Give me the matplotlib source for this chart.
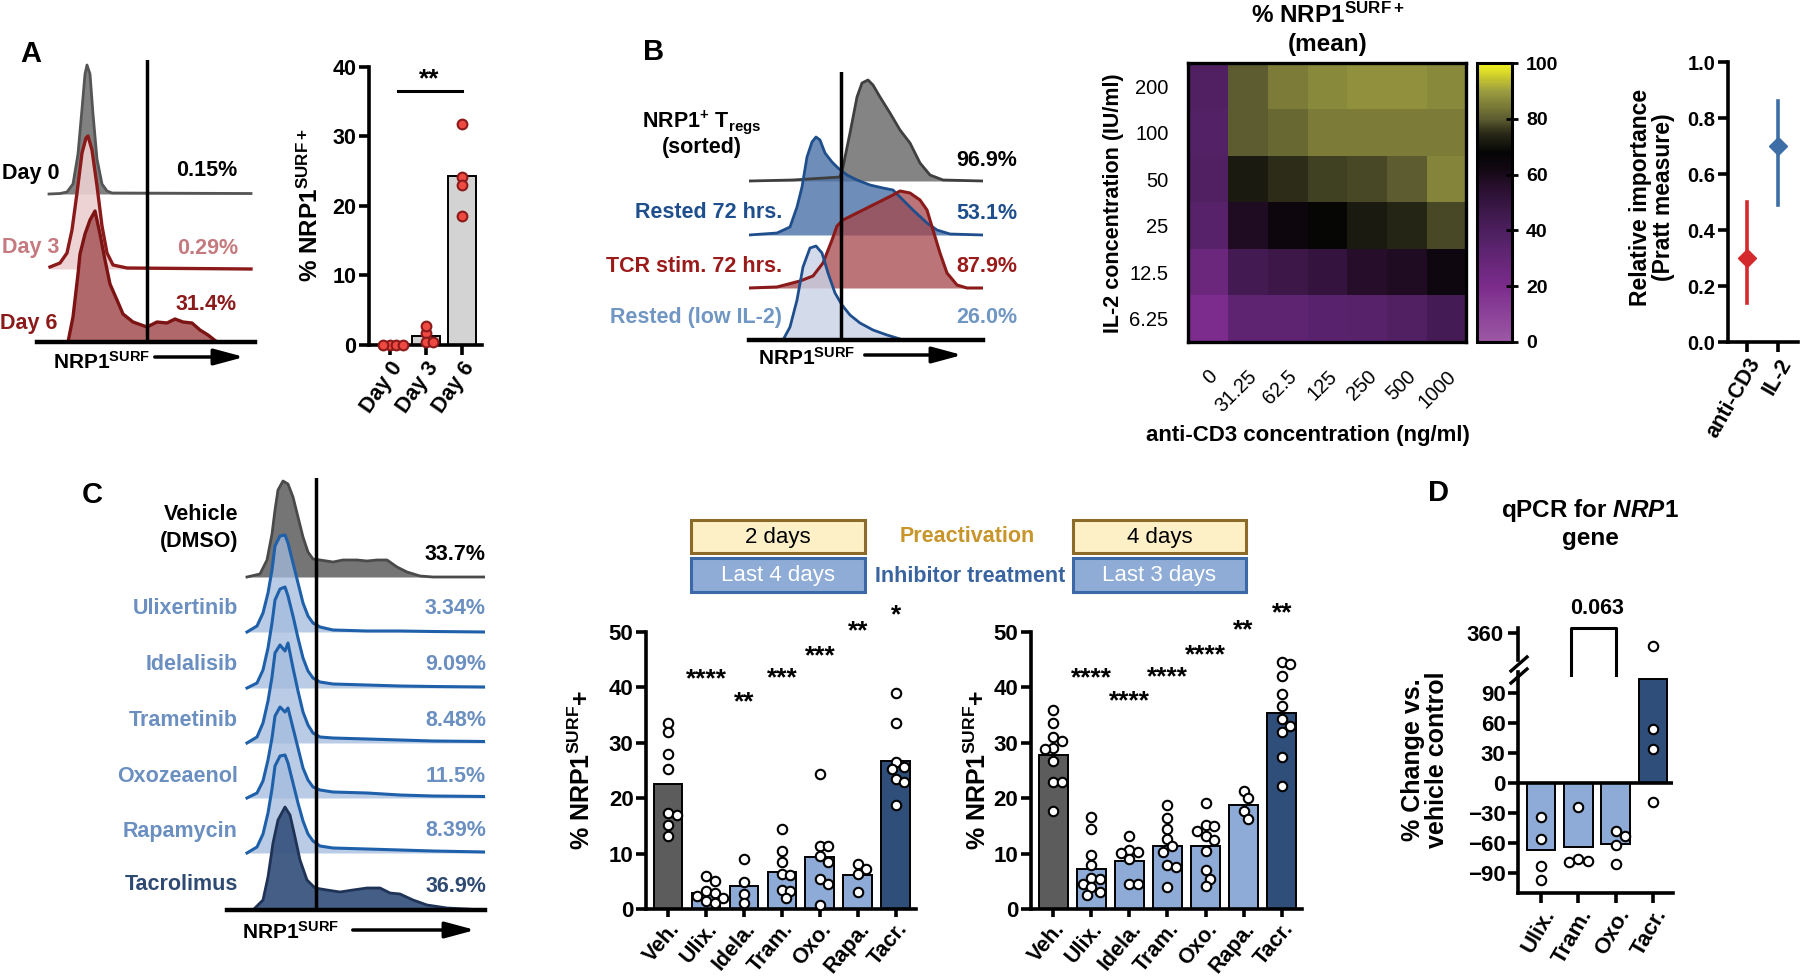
import numpy as np
import matplotlib
matplotlib.use('Agg')
import matplotlib.pyplot as plt
from matplotlib.colors import LinearSegmentedColormap
from matplotlib.patches import Rectangle
from matplotlib.lines import Line2D

plt.rcParams['font.family'] = ['Liberation Sans', 'DejaVu Sans']
plt.rcParams['font.weight'] = 'bold'
plt.rcParams['mathtext.fontset'] = 'custom'
plt.rcParams['mathtext.rm'] = 'Liberation Sans:bold'
plt.rcParams['mathtext.bf'] = 'Liberation Sans:bold'
plt.rcParams['mathtext.it'] = 'Liberation Sans:italic:bold'
plt.rcParams['mathtext.default'] = 'rm'

# ---------------- data ----------------
# A: histograms (x = intensity, h = count), day 0 / 3 / 6
a_d0_x = [49, 60, 67, 73, 78, 82, 85, 87, 90, 93, 97, 102, 107, 112, 251]
a_d0_h = [0, 0.5, 2, 10, 40, 85, 120, 129, 120, 80, 35, 10, 3, 1, 0.5]
a_d3_x = [50, 60, 67, 72, 77, 82, 86, 88, 92, 97, 102, 107, 113, 127, 251]
a_d3_h = [2, 6, 16, 39, 76, 116, 131, 133, 119, 83, 43, 16, 4, 1, 0]
a_d6_x = [68, 73, 78, 80, 85, 90, 95, 100, 105, 110, 117, 123, 133, 147, 157, 167, 175, 183, 192, 200, 208, 217]
a_d6_h = [0, 25, 68, 88, 108, 122, 131, 108, 82, 58, 42, 28, 20, 15, 20, 19, 23, 20, 19, 12, 7, 0]
a_pct = ['0.15%', '0.29%', '31.4%']

# A: bar chart
a_days = ['Day 0', 'Day 3', 'Day 6']
a_means = [0.0, 1.3, 24.3]
a_points = [[0, 0, 0, 0], [1.7, 2.7, 0.5, 0.5], [31.8, 24.2, 23.0, 18.6]]

# B: histograms
b_gray_x = [749, 793, 840, 843, 850, 857, 862, 868, 873, 880, 890, 900, 910, 920, 930, 943, 983]
b_gray_h = [0, 1, 4, 14, 48, 84, 98, 101, 96, 84, 68, 51, 38, 18, 6, 1, 0]
b_rest_x = [749, 777, 790, 797, 802, 807, 812, 816, 820, 825, 832, 838, 847, 857, 870, 883, 893, 903, 913, 927, 937, 950, 983]
b_rest_h = [0, 2, 8, 28, 48, 78, 93, 98, 95, 82, 73, 67, 60, 55, 50, 47, 45, 35, 25, 12, 5, 1, 0]
b_tcr_x = [749, 777, 800, 813, 823, 832, 837, 843, 853, 863, 873, 883, 893, 900, 910, 920, 927, 933, 940, 947, 957, 967, 983]
b_tcr_h = [0, 1, 7, 12, 25, 48, 62, 68, 73, 78, 83, 88, 93, 97, 95, 88, 78, 58, 35, 15, 3, 0, 0]
b_low_x = [749, 783, 790, 797, 803, 810, 816, 822, 828, 835, 842, 850, 860, 873, 887, 900, 903]
b_low_h = [0, 0, 13, 40, 73, 92, 94, 87, 67, 47, 35, 25, 17, 10, 5, 1, 0]
b_labels = ['Rested 72 hrs.', 'TCR stim. 72 hrs.', 'Rested (low IL-2)']
b_pct = ['96.9%', '53.1%', '87.9%', '26.0%']

# B: heatmap
il2_conc = ['200', '100', '50', '25', '12.5', '6.25']
cd3_conc = ['0', '31.25', '62.5', '125', '250', '500', '1000']
nrp1_mean = [
    [38, 80, 85, 87, 88, 88, 87],
    [37, 80, 82, 85, 85, 85, 85],
    [38, 72, 75, 77, 78, 80, 86],
    [35, 58, 64, 68, 72, 74, 78],
    [27, 44, 47, 50, 56, 58, 63],
    [20, 32, 32, 34, 35, 38, 43],
]

# B: relative importance
imp_names = ['anti-CD3', 'IL-2']
imp_val = [0.30, 0.70]
imp_lo = [0.14, 0.49]
imp_hi = [0.50, 0.86]

# C: histograms
c_names = ['Ulixertinib', 'Idelalisib', 'Trametinib', 'Oxozeaenol', 'Rapamycin']
c_pct = ['33.7%', '3.34%', '9.09%', '8.48%', '11.5%', '8.39%', '36.9%']
c_veh_x = [247, 260, 267, 272, 275, 278, 283, 288, 293, 298, 303, 308, 313, 320, 333, 343, 357, 367, 377, 387, 397, 407, 420, 433, 485]
c_veh_h = [0, 3, 17, 43, 67, 87, 96, 93, 80, 60, 40, 25, 18, 17, 15, 17, 17, 16, 17, 17, 10, 5, 1, 0, 0]
c_inh_x = [247, 257, 263, 268, 272, 275, 280, 285, 288, 293, 298, 303, 308, 313, 320, 333, 367, 400, 433, 485]
c_inh_h = [
    [0, 6, 19, 39, 62, 86, 96, 97, 89, 69, 49, 29, 16, 9, 5, 2, 1, 1, 0.5, 0],
    [0, 5, 18, 40, 65, 88, 99, 101, 92, 72, 50, 30, 17, 10, 6, 4, 3, 2, 1.5, 1],
    [0, 6, 20, 42, 66, 90, 98, 92, 100, 75, 52, 31, 18, 10, 6, 5, 4, 3, 2, 1.5],
    [0, 5, 17, 38, 60, 82, 91, 86, 90, 70, 50, 30, 18, 11, 8, 6, 5, 3, 2, 1.5],
    [0, 6, 19, 40, 64, 87, 97, 98, 90, 70, 50, 32, 19, 12, 7, 5, 4, 3, 2, 1],
]
c_tac_x = [253, 263, 268, 273, 278, 285, 290, 295, 300, 307, 315, 327, 340, 353, 367, 380, 390, 400, 413, 427, 447, 485]
c_tac_h = [0, 10, 33, 67, 90, 103, 95, 73, 50, 30, 22, 20, 18, 20, 22, 22, 17, 16, 10, 5, 2, 0]

# C: bar charts
drugs = ['Veh.', 'Ulix.', 'Idela.', 'Tram.', 'Oxo.', 'Rapa.', 'Tacr.']
c1_means = [22.6, 2.8, 4.2, 6.6, 9.3, 6.2, 26.8]
c1_points = [
    [33.6, 31.9, 28.0, 25.2, 17.4, 16.9, 15.2, 13.2],
    [6.0, 5.0, 3.3, 2.8, 2.4, 2.0, 1.5, 1.0],
    [9.0, 4.8, 2.7, 1.0],
    [14.5, 10.5, 8.4, 6.3, 6.1, 3.4, 3.3, 1.9],
    [24.4, 11.3, 11.4, 9.6, 8.4, 5.4, 4.5, 0.7],
    [8.2, 7.2, 6.4, 3.1],
    [38.9, 33.6, 26.5, 25.6, 25.2, 23.5, 23.0, 18.7],
]
c1_stars = ['', '****', '**', '***', '***', '**', '*']
c1_star_y = [0, 41.4, 37.3, 41.7, 45.7, 50.2, 53.0]
c2_means = [27.8, 7.3, 8.7, 11.4, 11.4, 18.7, 35.4]
c2_points = [
    [36.0, 33.6, 31.0, 30.4, 29.0, 28.9, 26.8, 22.9, 22.9, 17.7],
    [16.6, 14.4, 9.8, 8.0, 5.6, 5.5, 4.5, 3.9, 3.1, 2.5],
    [13.1, 10.7, 10.2, 10.1, 9.0, 4.5, 4.5],
    [18.8, 16.4, 14.4, 12.7, 11.4, 10.2, 8.0, 7.5, 4.0],
    [19.2, 15.2, 14.9, 14.1, 13.1, 12.5, 10.5, 7.0, 5.5, 4.2],
    [21.3, 20.0, 17.6, 16.3],
    [44.6, 44.3, 42.0, 38.8, 36.7, 34.3, 33.1, 31.9, 27.5, 22.2],
]
c2_stars = ['', '****', '****', '****', '****', '**', '**']
c2_star_y = [0, 41.6, 37.5, 41.9, 45.8, 50.3, 53.3]

# D: qPCR
d_names = ['Ulix.', 'Tram.', 'Oxo.', 'Tacr.']
d_means = [-67.4, -64.0, -61.0, 104.0]
d_points = [[-33.6, -56.0, -82.6, -97.4], [-24.0, -75.5, -78.0, -78.6],
            [-47.7, -53.4, -61.8, -81.3], [347.0, 54.4, 33.6, -19.1]]

# ---------------- colours ----------------
GRAY = '#5c5c5c'
LBLUE = '#8dabd6'
NAVY = '#2f4f7a'
TXT_LB = '#6a8fc0'
TXT_NAVY = '#2e4a72'

W, H = 1800, 976
fig = plt.figure(figsize=(18, 9.76), dpi=100)
FS = 15.5


def box(x0, y0, x1, y1):
    return fig.add_axes([x0 / W, 1 - y1 / H, (x1 - x0) / W, (y1 - y0) / H])


def put(x, y, s, **kw):
    kw.setdefault('fontsize', FS)
    kw.setdefault('va', 'center')
    fig.text(x / W, 1 - y / H, s, **kw)


def arrow(x0, x1, y):
    fig.add_artist(matplotlib.patches.FancyArrowPatch(
        (x0 / W, 1 - y / H), (x1 / W, 1 - y / H), transform=fig.transFigure,
        arrowstyle='-|>,head_length=1.3,head_width=0.35', mutation_scale=14,
        lw=2.5, color='k'))


def ridge(ax, x, h, off, face, edge, alpha, lw=2.0):
    x = np.asarray(x, float)
    y = np.asarray(h, float) + off
    ax.fill_between(x, off, y, color=face, alpha=alpha, lw=0)
    ax.plot(x, y, color=edge, lw=lw, solid_joinstyle='round')


def style(ax, lw=2.6, size=16):
    for s in ['top', 'right']:
        ax.spines[s].set_visible(False)
    for s in ['left', 'bottom']:
        ax.spines[s].set_linewidth(lw)
    ax.tick_params(width=lw, length=7, labelsize=size, pad=2)


def swarm(ax, xc, vals, d):
    tr = ax.transData
    sx = tr.transform((1, 0))[0] - tr.transform((0, 0))[0]
    placed = []
    out = []
    cands = [0.0]
    for i in range(1, 30):
        cands += [i * d * 0.5, -i * d * 0.5]
    for v in vals:
        py = tr.transform((0, v))[1]
        for c in cands:
            if all((c - px) ** 2 + (py - qy) ** 2 >= (d * 0.98) ** 2 for px, qy in placed):
                break
        placed.append((c, py))
        out.append(xc + c / sx)
    return out


def dot_bars(ax, means, points, faces, xlim, ylim, d, mfc='white', mec='k', ms=6.8):
    xs = np.arange(len(means))
    ax.set_xlim(*xlim)
    ax.set_ylim(*ylim)
    ax.bar(xs, means, width=0.76, color=faces, edgecolor='k', linewidth=1.4, zorder=2)
    for i, pts in enumerate(points):
        px = swarm(ax, i, pts, d)
        ax.plot(px, pts, 'o', ms=ms, mfc=mfc, mec=mec, mew=1.5, zorder=3, clip_on=False)
    ax.set_xticks(xs)


# ================= Panel A =================
put(20, 54, 'A', fontsize=21)
axh = box(37, 60, 255, 342)
axh.set_xlim(37, 255)
axh.set_ylim(0, 282)
axh.axis('off')
ridge(axh, a_d0_x, a_d0_h, 148, '#7a7a7a', '#555555', 0.95)
ridge(axh, a_d3_x, a_d3_h, 73, '#ebcfd0', '#8b1a1a', 0.9, lw=2.4)
ridge(axh, a_d6_x, a_d6_h, 0, '#b0686b', '#7d1414', 1.0, lw=2.4)
axh.plot([147, 147], [0, 282], color='k', lw=2.5)
axh.plot([37, 255], [0, 0], color='k', lw=3.2, clip_on=False)
put(2, 173, 'Day 0')
put(2, 248, 'Day 3', color='#c47a7e')
put(0, 323, 'Day 6', color='#8b1a1a')
put(237, 171, a_pct[0], ha='right')
put(238, 248, a_pct[1], ha='right', color='#c47a7e')
put(237, 305, a_pct[2], ha='right', color='#8b1a1a')
put(53, 362, r'NRP1$^{SURF}$', fontsize=15)
arrow(152, 247, 357)

axa = box(369, 67, 482, 345)
style(axa, size=15.5)
dot_bars(axa, a_means, a_points, ['#d3d3d3'] * 3, (-0.58, 2.55), (0, 40), 6.5,
         mfc='#ee4a42', mec='#8b1a1a', ms=7)
axa.set_yticks([0, 10, 20, 30, 40])
axa.set_xticklabels(a_days, rotation=55, ha='right', rotation_mode='anchor')
axa.plot([0.22, 2.0], [36.5, 36.5], color='k', lw=2.2, clip_on=False)
axa.text(1.1, 38.3, '**', ha='center', va='center', fontsize=19)
put(310, 205, r'% NRP1$^{SURF+}$', rotation=90, ha='center', fontsize=17.5)

# ================= Panel B =================
put(643, 52, 'B', fontsize=21)
axb = box(749, 72, 983, 340)
axb.set_xlim(749, 983)
axb.set_ylim(0, 268)
axb.axis('off')
ridge(axb, b_gray_x, b_gray_h, 159, '#7d7d7d', '#3f3f3f', 0.95)
ridge(axb, b_rest_x, b_rest_h, 105, '#4a72a8', '#1f4e8c', 0.8)
ridge(axb, b_tcr_x, b_tcr_h, 52, '#a5464b', '#8b1a1a', 0.75, lw=2.2)
ridge(axb, b_low_x, b_low_h, 0, '#c9d3e6', '#1f4e8c', 0.8)
axb.plot([841, 841], [0, 268], color='k', lw=2.5)
axb.plot([749, 983], [0, 0], color='k', lw=3.2, clip_on=False)
put(702, 122, r'NRP1$^{+}$ T$_{regs}$', ha='center')
put(702, 148, '(sorted)', ha='center')
put(782, 212, b_labels[0], ha='right', color='#1f4e8c')
put(782, 267, b_labels[1], ha='right', color='#9b1b1b')
put(782, 317, b_labels[2], ha='right', color='#7096c4')
put(1017, 161, b_pct[0], ha='right')
put(1017, 213, b_pct[1], ha='right', color='#1f4e8c')
put(1017, 267, b_pct[2], ha='right', color='#9b1b1b')
put(1017, 317, b_pct[3], ha='right', color='#7096c4')
put(758, 358, r'NRP1$^{SURF}$', fontsize=15)
arrow(862, 965, 355)

# heatmap
cmap = LinearSegmentedColormap.from_list('nrp1', [
    (0.0, '#9c58a4'), (0.2, '#7b2c8c'), (0.4, '#4c1f5f'), (0.55, '#2a1030'),
    (0.62, '#120812'), (0.68, '#050505'), (0.75, '#2a2a18'), (0.8, '#5c5c30'),
    (0.9, '#9c9c40'), (1.0, '#f5f51e')])
axm = box(1188, 63, 1466, 342)
im = axm.imshow(np.array(nrp1_mean), cmap=cmap, vmin=0, vmax=100, aspect='auto')
axm.set_xticks(range(len(cd3_conc)))
axm.set_xticklabels(cd3_conc, rotation=45, ha='right', va='top', rotation_mode='anchor',
                    fontweight='normal', fontsize=14.5)
axm.set_yticks(range(len(il2_conc)))
axm.set_yticklabels(il2_conc, fontweight='normal', fontsize=14.5)
axm.tick_params(axis='x', length=0, pad=18)
axm.tick_params(axis='y', length=0, pad=14)
for s in axm.spines.values():
    s.set_linewidth(2.4)
put(1328, 15, r'% NRP1$^{SURF+}$', ha='center', fontsize=17.5)
put(1328, 45, '(mean)', ha='center', fontsize=17.5)
put(1113, 203, 'IL-2 concentration (IU/ml)', rotation=90, ha='center')
put(1308, 435, 'anti-CD3 concentration (ng/ml)', ha='center', fontsize=16)

cax = box(1477, 63, 1512, 342)
cb = fig.colorbar(im, cax=cax, ticks=[0, 20, 40, 60, 80, 100])
cb.outline.set_linewidth(2.2)
cax.tick_params(width=2, length=8, direction='inout', labelsize=14, pad=6)

# relative importance
axr = box(1728, 62, 1798, 342)
style(axr, size=14.5)
axr.set_xlim(-0.61, 1.65)
axr.set_ylim(0, 1.0)
for i in range(2):
    col = ['#d42a2e', '#3d6fa6'][i]
    axr.plot([i, i], [imp_lo[i], imp_hi[i]], color=col, lw=2.6)
    axr.plot(i, imp_val[i], 'D', color=col, ms=9)
axr.set_xticks([0, 1])
axr.set_xticklabels(imp_names, rotation=60, ha='right', rotation_mode='anchor', fontsize=15.5)
axr.set_yticks(np.arange(0, 1.01, 0.2))
axr.set_yticklabels(['%.1f' % v for v in np.arange(0, 1.01, 0.2)])
put(1652, 197, 'Relative importance\n(Pratt measure)', rotation=90, ha='center',
    multialignment='center', linespacing=1.0, fontsize=16.5)

# ================= Panel C =================
put(82, 495, 'C', fontsize=21)
axc = box(227, 478, 485, 910)
axc.set_xlim(227, 485)
axc.set_ylim(0, 432)
axc.axis('off')
offs = [333, 278, 222, 167, 112, 57, 0]
ridge(axc, c_veh_x, c_veh_h, offs[0], '#6e6e6e', '#4a4a4a', 0.95)
for k in range(5):
    ridge(axc, c_inh_x, c_inh_h[k], offs[k + 1], '#a3bbdd', '#1f60aa', 0.75, lw=2.2)
ridge(axc, c_tac_x, c_tac_h, 0, '#3a5580', '#1f3357', 0.95)
axc.plot([316, 316], [0, 432], color='k', lw=2.5)
axc.plot([227, 485], [0, 0], color='k', lw=3.2, clip_on=False)
put(238, 514, 'Vehicle', ha='right')
put(238, 541, '(DMSO)', ha='right')
lab_y = [609, 665, 720, 776, 831]
for k in range(5):
    put(238, lab_y[k], c_names[k], ha='right', color=TXT_LB)
put(238, 885, 'Tacrolimus', ha='right', color=TXT_NAVY)
pct_y = [555, 609, 665, 720, 776, 831, 886]
for k in range(7):
    col = 'k' if k == 0 else (TXT_NAVY if k == 6 else TXT_LB)
    put(486, pct_y[k], c_pct[k], ha='right', color=col)
put(242, 932, r'NRP1$^{SURF}$', fontsize=15)
arrow(350, 478, 930)

# legend boxes
for (x0, x1, t1, t2) in [(691, 865, '2 days', 'Last 4 days'), (1073, 1246, '4 days', 'Last 3 days')]:
    fig.add_artist(Rectangle((x0 / W, 1 - 553 / H), (x1 - x0) / W, 33 / H, transform=fig.transFigure,
                             facecolor='#fdf0c6', edgecolor='#8b6a2a', lw=2.2))
    fig.add_artist(Rectangle((x0 / W, 1 - 592 / H), (x1 - x0) / W, 34 / H, transform=fig.transFigure,
                             facecolor='#8eacd6', edgecolor='#3c68a8', lw=2.2))
    put((x0 + x1) / 2, 537, t1, ha='center', fontweight='normal', fontsize=16)
    put((x0 + x1) / 2, 576, t2, ha='center', fontweight='normal', color='white', fontsize=16)
put(967, 537, 'Preactivation', ha='center', color='#c8952a')
put(970, 576, 'Inhibitor treatment', ha='center', color='#3a64a0')

bar_cols = [GRAY] + [LBLUE] * 5 + [NAVY]
for (x0, x1, means, pts, stars, sy, ylx) in [
        (646, 916, c1_means, c1_points, c1_stars, c1_star_y, 582),
        (1031, 1302, c2_means, c2_points, c2_stars, c2_star_y, 978)]:
    ax = box(x0, 632, x1, 909)
    style(ax)
    dot_bars(ax, means, pts, bar_cols, (-0.58, 6.53), (0, 50), 8.5)
    ax.set_yticks([0, 10, 20, 30, 40, 50])
    ax.set_xticklabels(drugs, rotation=50, ha='right', rotation_mode='anchor', fontsize=15.5)
    ax.tick_params(axis='x', pad=1, length=6)
    for i, s in enumerate(stars):
        if s:
            ax.text(i, sy[i], s, ha='center', va='center', fontsize=19, clip_on=False)
    put(ylx, 770, r'% NRP1$^{SURF}$+', rotation=90, ha='center', fontsize=18)

# ================= Panel D =================
put(1428, 493, 'D', fontsize=21)
put(1590, 511, r'qPCR for $\mathit{NRP1}$', ha='center', fontsize=17.5)
put(1590, 539, 'gene', ha='center', fontsize=17.5)

axd = box(1518, 672, 1673, 893)
style(axd)
axd.set_xlim(-0.62, 3.54)
axd.set_ylim(-110, 111)
xs = np.arange(4)
axd.bar(xs, d_means, width=0.76, color=[LBLUE] * 3 + [NAVY], edgecolor='k', linewidth=1.4, zorder=2)
axd.axhline(0, color='k', lw=2.6, zorder=3)
axu = box(1518, 628, 1673, 660)
axu.set_xlim(-0.62, 3.54)
axu.set_ylim(333, 365)
for s in ['top', 'right', 'bottom']:
    axu.spines[s].set_visible(False)
axu.spines['left'].set_linewidth(2.6)
axu.tick_params(width=2.6, length=7, labelsize=16)
axu.set_xticks([])
axu.set_yticks([360])
axu.patch.set_alpha(0)
for i, pts in enumerate(d_points):
    lo = [p for p in pts if p < 200]
    hi = [p for p in pts if p >= 200]
    px = swarm(axd, i, lo, 9.5)
    axd.plot(px, lo, 'o', ms=6.8, mfc='white', mec='k', mew=1.5, zorder=4, clip_on=False)
    if hi:
        axu.plot([i] * len(hi), hi, 'o', ms=6.8, mfc='white', mec='k', mew=1.5, clip_on=False)
axd.set_xticks(xs)
axd.set_xticklabels(d_names, rotation=60, ha='right', rotation_mode='anchor')
axd.set_yticks([-90, -60, -30, 0, 30, 60, 90])
axd.plot([0.8, 0.8, 2.0, 2.0], [108, 155, 155, 108], color='k', lw=2.2, clip_on=False)
axd.text(1.5, 175, '0.063', ha='center', va='center', fontsize=FS, clip_on=False)
for yy in (664, 676):
    fig.add_artist(Line2D([1511 / W, 1527 / W], [1 - (yy + 7) / H, 1 - (yy - 7) / H],
                          transform=fig.transFigure, color='k', lw=2.4))
put(1425, 760, '% Change vs.\nvehicle control', rotation=90, ha='center',
    multialignment='center', linespacing=1.0, fontsize=18)

fig.savefig('out.png', dpi=100)
